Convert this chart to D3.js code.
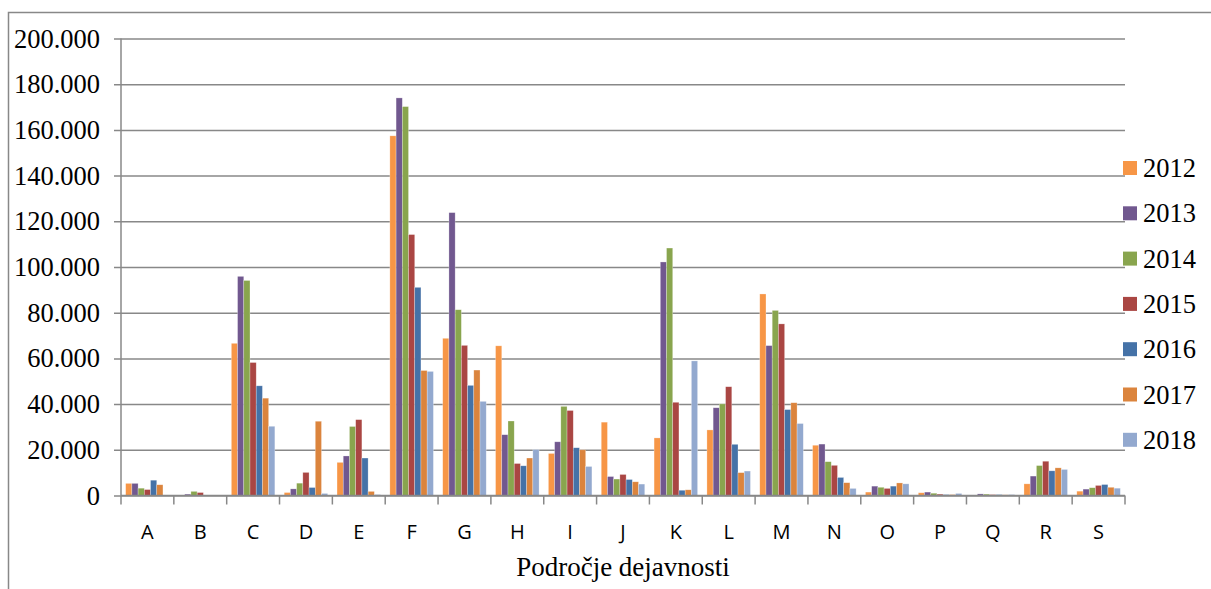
<!DOCTYPE html>
<html>
<head>
<meta charset="utf-8">
<script src="https://cdn.jsdelivr.net/npm/d3@7"></script>
</head>
<body style="margin:0">
<svg id="chart" width="1211" height="589"></svg>
<script>
// Activity sectors (področja dejavnosti)
const categories = ["A","B","C","D","E","F","G","H","I","J","K","L","M","N","O","P","Q","R","S"];
const years = ["2012","2013","2014","2015","2016","2017","2018"];

// Values per year, one entry per sector
const v2012 = [5300, 0, 66600, 1300, 14500, 157400, 68800, 65500, 18400, 32100, 25200, 28700, 88200, 22000, 1500, 1200, 200, 5100, 1900];
const v2013 = [5300, 600, 95900, 2900, 17300, 174000, 123800, 26600, 23500, 8300, 102200, 38400, 65600, 22500, 4100, 1500, 700, 8500, 2800];
const v2014 = [3200, 1800, 94100, 5400, 30200, 170200, 81300, 32600, 39000, 7200, 108300, 40100, 81000, 14800, 3600, 1000, 600, 13100, 3400];
const v2015 = [2600, 1300, 58200, 10100, 33200, 114200, 65700, 14000, 37200, 9200, 40800, 47600, 75100, 13200, 3100, 600, 400, 15000, 4400];
const v2016 = [6700, 0, 48000, 3500, 16400, 91100, 48200, 13000, 20900, 7000, 2300, 22400, 37600, 7900, 4100, 400, 400, 10800, 4800];
const v2017 = [4700, 0, 42600, 32500, 1800, 54700, 54900, 16400, 20000, 6000, 2500, 10000, 40600, 5600, 5500, 400, 300, 12100, 3600];
const v2018 = [0, 0, 30300, 900, 400, 54300, 41200, 20100, 12700, 5000, 58900, 10700, 31500, 3100, 5100, 900, 400, 11400, 3200];

const yTicks = [0, 20000, 40000, 60000, 80000, 100000, 120000, 140000, 160000, 180000, 200000];
const xTitle = "Področje dejavnosti";

const seriesValues = [v2012, v2013, v2014, v2015, v2016, v2017, v2018];
const colors = ["#F79646", "#71588F", "#89A54E", "#AA4643", "#4572A7", "#DB843D", "#93A9CF"];

const svg = d3.select("#chart");
const gridColor = "#888888";
const SERIF = '"Liberation Serif"';
const SANS = '"Open Sans"';

const plot = { left: 121, right: 1125, top: 38.5, bottom: 495.5 };

const x = d3.scaleBand().domain(categories).range([plot.left, plot.right]).paddingInner(0).paddingOuter(0);
const xs = d3.scaleBand().domain(years).range([0, x.bandwidth()]).paddingInner(0).paddingOuter(0.75);
const y = d3.scaleLinear().domain([0, 200000]).range([plot.bottom, plot.top]);

const fmt = d3.formatLocale({ decimal: ",", thousands: ".", grouping: [3], currency: ["", " €"] }).format(",.0f");

// Outer chart frame
svg.append("path")
  .attr("d", "M8.5,589 L8.5,12.5 L1211,12.5")
  .attr("fill", "none").attr("stroke", gridColor).attr("stroke-width", 1.5);

// Horizontal gridlines
const yAxis = d3.axisLeft(y).tickValues(yTicks).tickSize(-(plot.right - plot.left)).tickSizeOuter(0).tickFormat("");
const gy = svg.append("g").attr("transform", `translate(${plot.left},0)`).call(yAxis);
gy.select(".domain").remove();
gy.selectAll(".tick line").attr("x1", -7).attr("stroke", gridColor).attr("stroke-width", 1.5);
gy.selectAll(".tick text").remove();

// Value labels on the vertical axis
svg.append("g").selectAll("text").data(yTicks).join("text")
  .attr("x", plot.left - 21)
  .attr("y", d => y(d))
  .attr("dy", "0.34em")
  .attr("text-anchor", "end")
  .style("font-family", SERIF).style("font-size", "26.5px")
  .text(d => fmt(d));

// Vertical axis line
svg.append("line")
  .attr("x1", plot.left).attr("x2", plot.left).attr("y1", plot.top).attr("y2", plot.bottom)
  .attr("stroke", gridColor).attr("stroke-width", 1.5);

// Bars
const groups = svg.append("g").selectAll("g")
  .data(categories).join("g")
  .attr("transform", c => `translate(${x(c)},0)`);

groups.selectAll("rect")
  .data((c, ci) => years.map((yr, si) => ({ yr, si, v: seriesValues[si][ci] })))
  .join("rect")
  .attr("x", d => xs(d.yr))
  .attr("width", xs.bandwidth())
  .attr("y", d => y(d.v))
  .attr("height", d => y(0) - y(d.v))
  .attr("fill", d => colors[d.si])
  .attr("stroke", "rgba(255,255,255,0.45)")
  .attr("stroke-width", 0.6);

// Category axis with tick marks between groups
const bounds = categories.map(c => x(c)).concat([plot.right]);
const gx = svg.append("g");
gx.append("line")
  .attr("x1", plot.left).attr("x2", plot.right).attr("y1", plot.bottom).attr("y2", plot.bottom)
  .attr("stroke", gridColor).attr("stroke-width", 1.5);
gx.selectAll("line.tk").data(bounds).join("line").attr("class", "tk")
  .attr("x1", d => d).attr("x2", d => d).attr("y1", plot.bottom).attr("y2", plot.bottom + 9)
  .attr("stroke", gridColor).attr("stroke-width", 1.5);
gx.selectAll("text").data(categories).join("text")
  .attr("x", c => x(c) + x.bandwidth() / 2)
  .attr("y", 539)
  .attr("text-anchor", "middle")
  .style("font-family", SANS).style("font-size", "20px")
  .text(c => c);

// Axis title
svg.append("text")
  .attr("x", 623).attr("y", 576)
  .attr("text-anchor", "middle")
  .style("font-family", SERIF).style("font-size", "27px")
  .text(xTitle);

// Legend
const legend = svg.append("g").selectAll("g").data(years).join("g")
  .attr("transform", (d, i) => `translate(1123,${168 + i * 45.3})`);
legend.append("rect")
  .attr("x", 0).attr("y", -7).attr("width", 14).attr("height", 14)
  .attr("fill", (d, i) => colors[i]);
legend.append("text")
  .attr("x", 20).attr("y", 0).attr("dy", "0.34em")
  .style("font-family", SERIF).style("font-size", "26.5px")
  .text(d => d);
</script>
</body>
</html>
